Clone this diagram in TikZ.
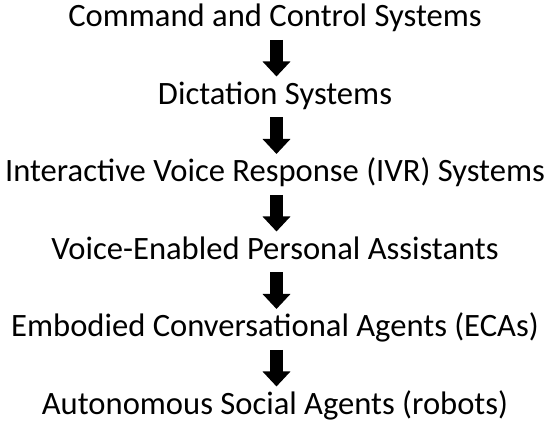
\documentclass[tikz,border=0pt]{standalone}
\usepackage{fontspec}
\setmainfont{Carlito}
\usetikzlibrary{arrows.meta}
\begin{document}
\begin{tikzpicture}[x=1pt,y=1pt,
  label/.style={anchor=base, inner sep=0pt, font=\fontsize{32.6}{38}\selectfont},
  blockarrow/.style={line width=13.5pt, -{Triangle[width=27pt,length=15pt]}}]
\useasboundingbox (0,0) rectangle (550,428);
\coordinate (ax) at (276.5,0);
\node[label] (a) at (275,401) {Command and Control Systems};
\node[label] (b) at (275,323.5) {Dictation Systems};
\node[label] (c) at (275,246) {Interactive Voice Response (IVR) Systems};
\node[label] (d) at (275,168.5) {Voice-Enabled Personal Assistants};
\node[label] (e) at (275,91) {Embodied Conversational Agents (ECAs)};
\node[label] (f) at (275,13.5) {Autonomous Social Agents (robots)};
\foreach \u/\v in {a/b,b/c,c/d,d/e,e/f}{
  \draw[blockarrow] ([yshift=-13pt]\u.base -| ax) -- ([yshift=28pt]\v.base -| ax);
}
\end{tikzpicture}
\end{document}
